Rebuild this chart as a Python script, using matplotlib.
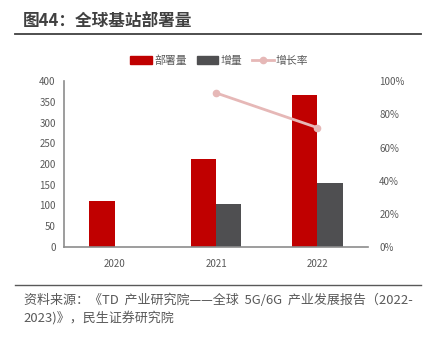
import matplotlib
matplotlib.use('Agg')
import matplotlib.pyplot as plt
import numpy as np
from matplotlib.lines import Line2D
from matplotlib.patches import Patch

plt.rcParams['font.family'] = ['Noto Sans CJK SC', 'DejaVu Sans']

### data: global base station deployment (10k units)
years = ['2020', '2021', '2022']
deployed = [110, 213, 366]
added = [np.nan, 103, 154]
growth = [np.nan, 0.93, 0.72]

red = '#C00000'
dark = '#4F4F51'
pink = '#E6B8B7'
txt = '#595959'

fig = plt.figure(figsize=(4.27, 3.39), dpi=100)
ax = fig.add_axes([0.150, 0.272, 0.712, 0.488])

x = np.arange(len(years))
w = 0.25
ax.bar(x - w / 2, deployed, w, color=red)
ax.bar(x + w / 2, added, w, color=dark)

ax.set_xlim(-0.5, 2.5)
ax.set_ylim(0, 400)
ax.set_yticks(range(0, 401, 50))
ax.set_xticks(x)
ax.set_xticklabels(years)
for s in ['top', 'right']:
    ax.spines[s].set_visible(False)
for s in ['left', 'bottom']:
    ax.spines[s].set_color('#8C8C8C')
    ax.spines[s].set_linewidth(1.2)
ax.tick_params(length=0, labelsize=7, colors=txt, pad=6)
ax.tick_params(axis='x', pad=9)

### growth rate on the right axis
ax2 = ax.twinx()
ax2.plot(x, growth, color=pink, lw=2, marker='o', ms=4.5)
ax2.set_ylim(0, 1)
ax2.set_yticks(np.arange(0, 1.01, 0.2))
ax2.set_yticklabels([f'{int(round(v * 100))}%' for v in np.arange(0, 1.01, 0.2)])
for s in ax2.spines.values():
    s.set_visible(False)
ax2.tick_params(length=0, labelsize=7, colors=txt, pad=8)

handles = [Patch(color=red), Patch(color=dark),
           Line2D([], [], color=pink, lw=2, marker='o', ms=4.5)]
fig.legend(handles, ['部署量', '增量', '增长率'], ncol=3, loc='center',
           bbox_to_anchor=(0.514, 0.821), frameon=False, fontsize=7.8,
           labelcolor=txt, handlelength=2.0, handleheight=0.8,
           handletextpad=0.2, columnspacing=0.9)

### title and source
fig.text(0.054, 0.938, '图44：全球基站部署量', fontsize=12, fontweight='bold',
         color='#404040', va='center')
fig.add_artist(Line2D([0.035, 0.985], [0.900, 0.900], color='#404040', lw=1.3))
fig.add_artist(Line2D([0.035, 0.985], [0.159, 0.159], color='#595959', lw=1.0))
fig.text(0.056, 0.115, '资料来源：《TD  产业研究院——全球  5G/6G  产业发展报告（2022-',
         fontsize=9.4, color=txt, va='center')
fig.text(0.056, 0.062, '2023)》，民生证券研究院', fontsize=9.4, color=txt, va='center')

fig.savefig('out.png', dpi=100)
